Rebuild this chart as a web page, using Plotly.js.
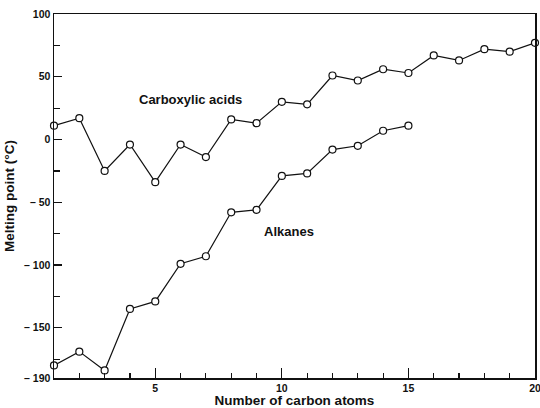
<!DOCTYPE html>
<html>
<head>
<meta charset="utf-8">
<script src="https://cdn.plot.ly/plotly-3.0.1.min.js"></script>
<style>html,body{margin:0;padding:0;background:#fff;}#chart{width:540px;height:408px;}</style>
</head>
<body>
<div id="chart"></div>
<script>
const carbonAtoms = [1,2,3,4,5,6,7,8,9,10,11,12,13,14,15,16,17,18,19,20];
const acidMp = [11,17,-25,-4,-34,-4,-14,16,13,30,28,51,47,56,53,67,63,72,70,77];
const alkaneAtoms = [1,2,3,4,5,6,7,8,9,10,11,12,13,14,15];
const alkaneMp = [-180,-169,-184,-135,-129,-99,-93,-58,-56,-29,-27,-8,-5,7,11];
const xTickVals = [5,10,15,20];
const xMinorVals = [2,3,4,6,7,8,9,11,12,13,14,16,17,18,19];
const yTickVals = [100,50,0,-50,-100,-150,-190];
const yTickText = ['100','50','0','\u2013 50','\u2013 100','\u2013 150','\u2013 190'];
const yMinorVals = [75,25,-25,-75,-125,-175];

const lineStyle = {color:'#111', width:1.2};
const markerStyle = {symbol:'circle', size:7, color:'#fff', line:{color:'#111', width:1.2}};

const traces = [
  {x: carbonAtoms, y: acidMp, mode:'lines+markers', line: lineStyle, marker: markerStyle, cliponaxis:false, name:'Carboxylic acids'},
  {x: alkaneAtoms, y: alkaneMp, mode:'lines+markers', line: lineStyle, marker: markerStyle, cliponaxis:false, name:'Alkanes'}
];

const tickFont = {family:'Liberation Sans, Arial, sans-serif', size:10.5, color:'#111', weight:'bold'};
const titleFont = {family:'Liberation Sans, Arial, sans-serif', size:13.5, color:'#111', weight:'bold'};
const annFont = {family:'Liberation Sans, Arial, sans-serif', size:13, color:'#111', weight:'bold'};

const layout = {
  width:540, height:408,
  margin:{l:54, r:5, t:14, b:30},
  paper_bgcolor:'#fff', plot_bgcolor:'#fff',
  showlegend:false,
  xaxis:{
    range:[1,20], showgrid:false, zeroline:false,
    showline:true, linecolor:'#111', linewidth:1.5, mirror:true,
    tickmode:'array', tickvals:xTickVals, ticktext:xTickVals.map(String),
    ticks:'inside', ticklen:10, tickwidth:1.2, tickcolor:'#111',
    tickfont: tickFont, ticklabeloverflow:'allow',
    minor:{tickvals:xMinorVals, ticks:'inside', ticklen:5, tickwidth:1.2, tickcolor:'#111', showgrid:false},
    title:{text:'Number of carbon atoms', font:titleFont, standoff:4}
  },
  yaxis:{
    range:[-190,100], showgrid:false, zeroline:false,
    showline:true, linecolor:'#111', linewidth:1.5, mirror:true,
    tickmode:'array', tickvals:yTickVals, ticktext:yTickText,
    ticks:'inside', ticklen:8, tickwidth:1.2, tickcolor:'#111',
    tickfont: tickFont, ticklabeloverflow:'allow',
    minor:{tickvals:yMinorVals, ticks:'inside', ticklen:6, tickwidth:1.2, tickcolor:'#111', showgrid:false},
    title:{text:'Melting point (\u00b0C)', font:titleFont, standoff:6}
  },
  annotations:[
    {x:6.4, y:32, xref:'x', yref:'y', text:'Carboxylic acids', showarrow:false, font:annFont},
    {x:10.3, y:-73, xref:'x', yref:'y', text:'Alkanes', showarrow:false, font:annFont}
  ]
};

Plotly.newPlot('chart', traces, layout, {staticPlot:true, displayModeBar:false});
</script>
</body>
</html>
